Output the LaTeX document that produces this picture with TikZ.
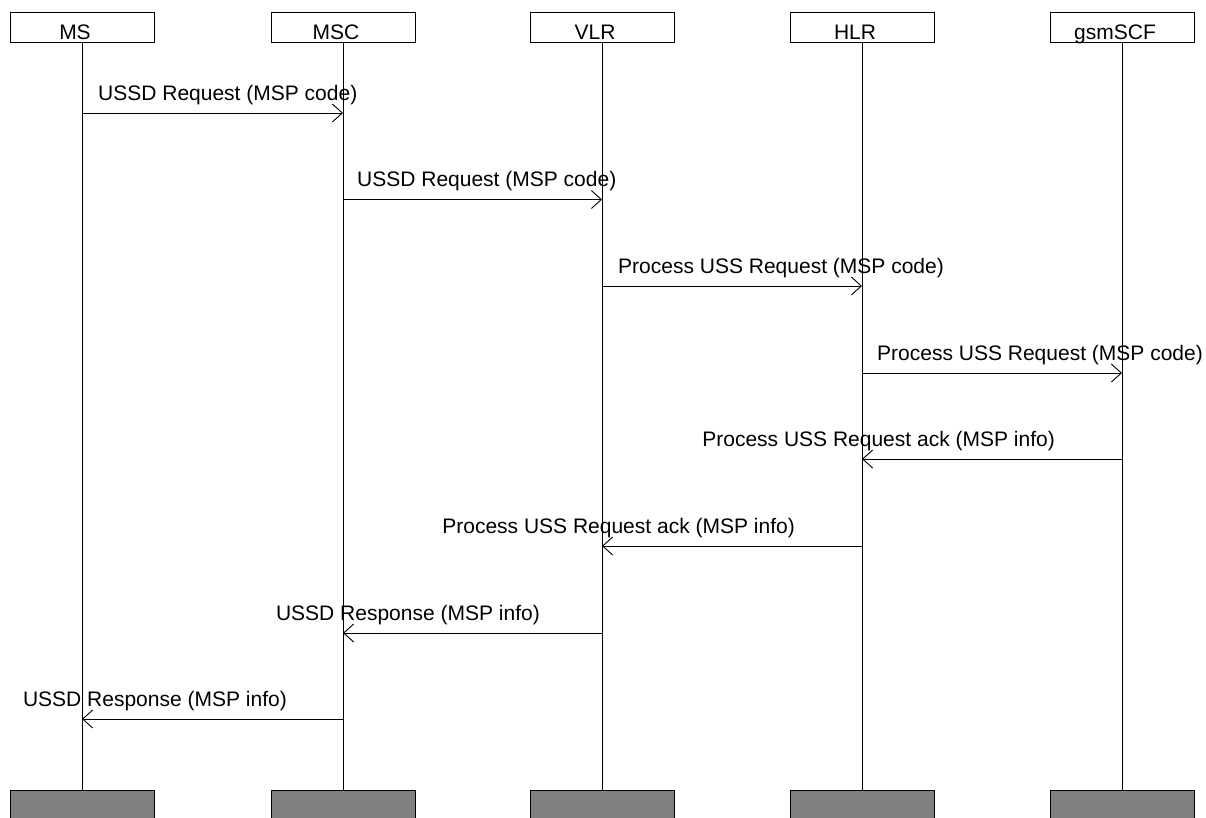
\documentclass[tikz,border=0pt]{standalone}
\usepackage{fontspec}
\setmainfont{Liberation Sans}
\usepackage{tikz}
\usetikzlibrary{positioning, arrows.meta, calc}
\tikzset{
	x=1pt, y=-1pt, % pixel-like units, y grows downwards
	every node/.style={font=\fontsize{21}{25}\selectfont}, % Arial-like text everywhere
	head/.style={draw, line width=0.9pt, minimum width=144pt, minimum height=30pt, inner sep=0pt}, % box on top of a lifeline
	foot/.style={head, fill=black!50}, % grey box at the bottom of a lifeline
	headtext/.style={anchor=base, inner sep=0pt}, % name in a top box
	life/.style={line width=0.9pt}, % lifeline
	msg/.style={line width=0.9pt, -{Straight Barb[length=10pt, width=18pt]}}, % message arrow
	msgtext/.style={inner sep=0pt}, % message label
}
\begin{document}
\begin{tikzpicture}
		\useasboundingbox (0,0) rectangle (1206,817);

		% entities
		\foreach \n/\x/\t in {ms/82/MS, msc/343/MSC, vlr/602/VLR, hlr/862/HLR, scf/1122/gsmSCF}{
			\node[head] (\n) at (\x,27) {};
			\node[headtext] (\n t) at (\x-7,39) {\t};
			\node[foot] (\n b) at (\x,805) {};
			\draw[life] (\n) -- (\n b);
			% points where the messages meet the lifeline
			\foreach \i/\y in {1/113, 2/199.5, 3/286, 4/373, 5/459, 6/546, 7/633, 8/719}
				\coordinate (\n\i) at (\x,\y);
		}

		% requests
		\draw[msg] (ms1) -- (msc1);
		\node[msgtext, anchor=base west] (m1) at ([xshift=16pt, yshift=13pt]ms1) {USSD Request (MSP code)};
		\draw[msg] (msc2) -- (vlr2);
		\node[msgtext, anchor=base west] (m2) at ([xshift=14pt, yshift=13pt]msc2) {USSD Request (MSP code)};
		\draw[msg] (vlr3) -- (hlr3);
		\node[msgtext, anchor=base west] (m3) at ([xshift=16pt, yshift=13pt]vlr3) {Process USS Request (MSP code)};
		\draw[msg] (hlr4) -- (scf4);
		\node[msgtext, anchor=base west] (m4) at ([xshift=15pt, yshift=13pt]hlr4) {Process USS Request (MSP code)};

		% answers
		\draw[msg] (scf5) -- (hlr5);
		\node[msgtext, anchor=base east] (m5) at ([xshift=-67pt, yshift=13pt]scf5) {Process USS Request ack (MSP info)};
		\draw[msg] (hlr6) -- (vlr6);
		\node[msgtext, anchor=base east] (m6) at ([xshift=-67pt, yshift=13pt]hlr6) {Process USS Request ack (MSP info)};
		\draw[msg] (vlr7) -- (msc7);
		\node[msgtext, anchor=base east] (m7) at ([xshift=-62pt, yshift=13pt]vlr7) {USSD Response (MSP info)};
		\draw[msg] (msc8) -- (ms8);
		\node[msgtext, anchor=base east] (m8) at ([xshift=-56pt, yshift=13pt]msc8) {USSD Response (MSP info)};
	\end{tikzpicture}
\end{document}
